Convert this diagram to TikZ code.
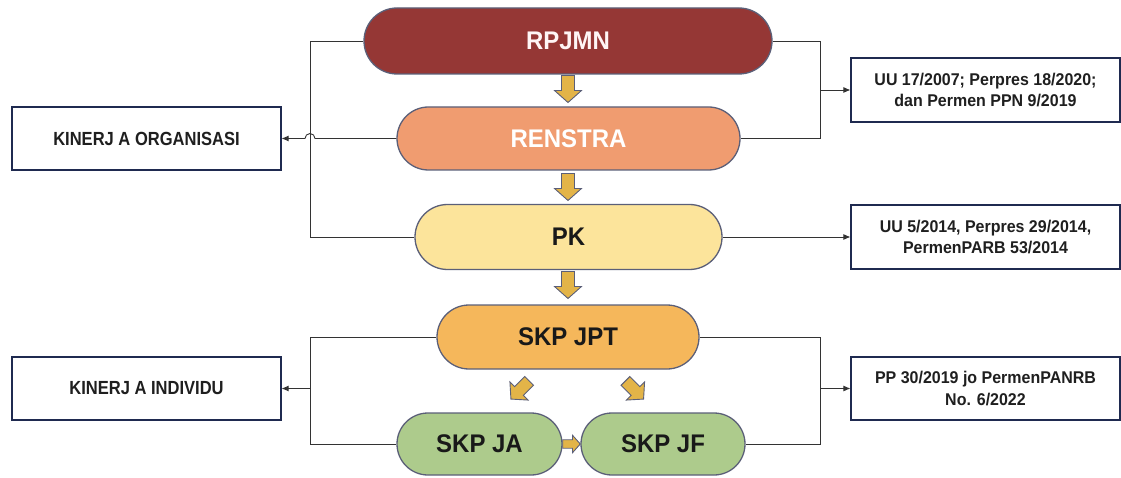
\documentclass[tikz,border=0pt]{standalone}
\usepackage{fontspec}
\setmainfont{Liberation Sans}
\newfontfamily\narrowsans[FakeStretch=0.94]{Liberation Sans}
\newfontfamily\tightsans[FakeStretch=0.87]{Liberation Sans}
\usetikzlibrary{shapes.misc,arrows.meta}

\definecolor{rpjmnc}{HTML}{953735}
\definecolor{renstrac}{HTML}{F09C70}
\definecolor{pkc}{HTML}{FCE49B}
\definecolor{jptc}{HTML}{F5B75B}
\definecolor{skpc}{HTML}{ADCB8C}
\definecolor{pillline}{HTML}{5B5F78}
\definecolor{boxline}{HTML}{1F2A50}
\definecolor{arrowc}{HTML}{E3B448}
\definecolor{connc}{HTML}{333333}

\begin{document}
\begin{tikzpicture}[x=1pt,y=1pt,
  pill/.style={rounded rectangle, draw=pillline, line width=1.3pt,
    font=\narrowsans\fontsize{25.5}{30}\selectfont\bfseries, text=black!90, inner sep=0pt},
  infobox/.style={rectangle, draw=boxline, line width=1.1pt, fill=white,
    minimum width=269pt, inner sep=0pt, align=center,
    font=\narrowsans\fontsize{17}{21.5}\selectfont\bfseries, text=black!88},
  sidebox/.style={infobox, minimum height=63pt,
    font=\tightsans\fontsize{19}{22}\selectfont\bfseries},
  conn/.style={draw=connc, line width=0.9pt},
  connarrow/.style={conn, -{Latex[length=7pt,width=6pt]}},
  blockarrow/.pic={
    \draw[fill=arrowc, draw=pillline, line width=0.9pt, line join=miter]
      (-13.5,-6.5) -- (1.5,-6.5) -- (1.5,-13.5) -- (13.5,0)
      -- (1.5,13.5) -- (1.5,6.5) -- (-13.5,6.5) -- cycle;
  }]
\useasboundingbox (0,0) rectangle (1121,-478);

% central chain of planning documents
\node[pill, fill=rpjmnc, text=white!96!red, minimum width=408pt, minimum height=66pt] (rpjmn) at (568,-41) {RPJMN};
\node[pill, fill=renstrac, text=white, minimum width=343pt, minimum height=63pt] (renstra) at (568.5,-138.5) {RENSTRA};
\node[pill, fill=pkc, minimum width=307pt, minimum height=65pt] (pk) at (568.5,-237) {PK};
\node[pill, fill=jptc, minimum width=262pt, minimum height=64pt] (jpt) at (568,-337) {SKP JPT};
\node[pill, fill=skpc, minimum width=165pt, minimum height=62pt] (ja) at (479.5,-444) {SKP JA};
\node[pill, fill=skpc, minimum width=164pt, minimum height=62pt] (jf) at (663,-444) {SKP JF};

% performance boxes on the left
\node[sidebox] (org) at (146.5,-138.5) {KINERJ A ORGANISASI};
\node[sidebox] (ind) at (146.5,-388.5) {KINERJ A INDIVIDU};

% legal basis boxes on the right
\node[infobox, minimum height=64pt] (r1) at (985.5,-90) {UU 17/2007; Perpres 18/2020;\\ dan Permen PPN 9/2019};
\node[infobox, minimum height=64pt] (r2) at (985.5,-237) {UU 5/2014, Perpres 29/2014,\\ PermenPARB 53/2014};
\node[infobox, minimum height=63pt] (r3) at (985.5,-388.5) {PP 30/2019 jo PermenPANRB\\ No. 6/2022};

% bracket helpers
\coordinate (lbot) at (310,-237);
\coordinate (hopR) at (315,-138.5);
\coordinate (rbot) at (820,-138.5);
\coordinate (rmid) at (820,-90);
\coordinate (llbot) at (310,-444);
\coordinate (llmid) at (310,-388.5);
\coordinate (rrbot) at (820,-444);
\coordinate (rrmid) at (820,-388.5);

% brackets and links
\draw[conn] (rpjmn.west) -| (lbot) -- (pk.west);
\draw[connarrow] (renstra.west) -- (hopR) arc[start angle=0, end angle=180, radius=5] -- (org.east);
\draw[conn] (rpjmn.east) -| (rbot) -- (renstra.east);
\draw[connarrow] (rmid) -- (r1.west);
\draw[connarrow] (pk.east) -- (r2.west);
\draw[conn] (jpt.west) -| (llbot) -- (ja.west);
\draw[connarrow] (llmid) -- (ind.east);
\draw[conn] (jpt.east) -| (rrbot) -- (jf.east);
\draw[connarrow] (rrmid) -- (r3.west);

% block arrows between levels
\pic[rotate=-90] at (568,-89) {blockarrow};
\pic[rotate=-90] at (568,-187) {blockarrow};
\pic[rotate=-90] at (568,-285) {blockarrow};
\pic[rotate=-135, scale=0.95] at (520,-390) {blockarrow};
\pic[rotate=-45, scale=0.95] at (634.5,-390) {blockarrow};
\pic[scale=0.65] at (571.5,-444) {blockarrow};
\end{tikzpicture}
\end{document}
